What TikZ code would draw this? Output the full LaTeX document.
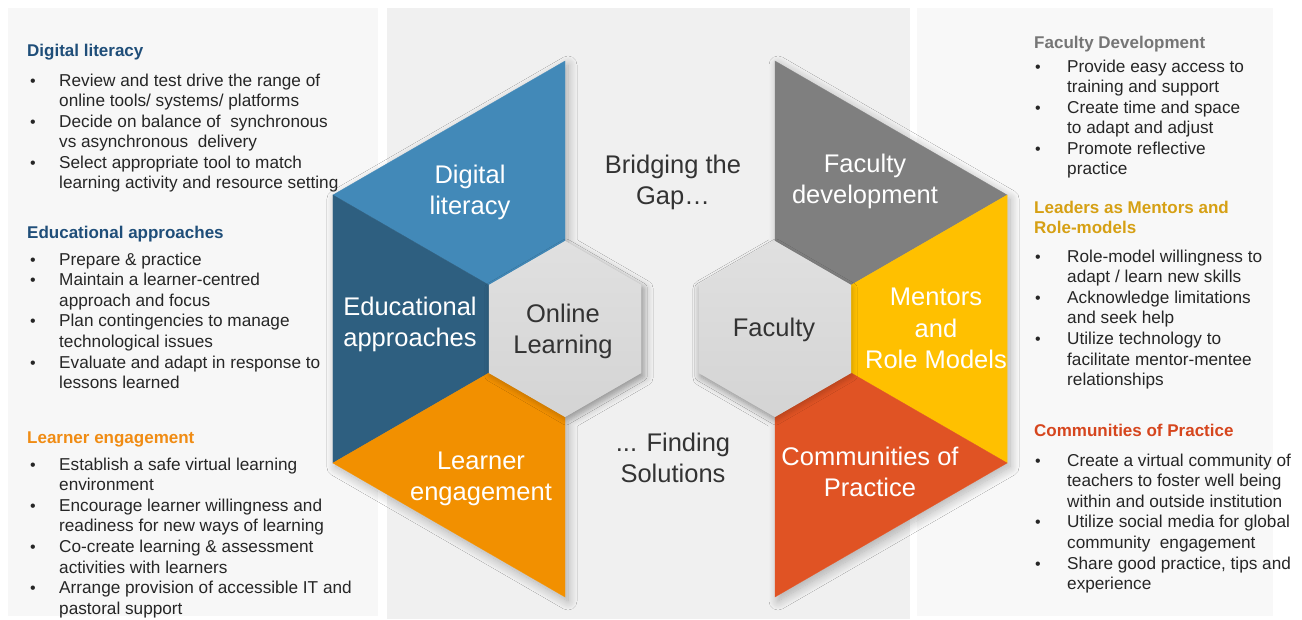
\documentclass[tikz,border=0pt]{standalone}
\usepackage{fontspec}
\setmainfont{Liberation Sans}
\usetikzlibrary{shadows.blur}
\definecolor{panelL}{RGB}{247,247,247}
\definecolor{panelC}{RGB}{240,240,240}
\definecolor{panelR}{RGB}{248,248,248}
\definecolor{segDL}{RGB}{66,137,184}
\definecolor{segEA}{RGB}{46,95,128}
\definecolor{segLE}{RGB}{242,144,0}
\definecolor{segFD}{RGB}{127,127,127}
\definecolor{segMR}{RGB}{255,192,0}
\definecolor{segCP}{RGB}{224,83,36}
\definecolor{hexTop}{RGB}{224,224,224}
\definecolor{hexBot}{RGB}{212,212,212}
\definecolor{hdBlue}{RGB}{31,78,121}
\definecolor{hdOrange}{RGB}{240,140,20}
\definecolor{hdGray}{RGB}{118,118,118}
\definecolor{hdGold}{RGB}{214,160,20}
\definecolor{hdRed}{RGB}{214,70,30}
\definecolor{bodyText}{RGB}{38,38,38}
\definecolor{darkText}{RGB}{51,51,51}
\tikzset{
  body/.style={anchor=base west, inner sep=0pt, text=bodyText, font=\fontsize{17.2}{20.5}\selectfont},
  bul/.style={anchor=base west, inner sep=0pt, text=bodyText, font=\fontsize{16}{18}\selectfont},
  head/.style={anchor=base west, inner sep=0pt, font=\bfseries\fontsize{17}{20.5}\selectfont},
  big/.style={anchor=base, inner sep=0pt, font=\fontsize{25.5}{31}\selectfont},
  white label/.style={big, text=white},
  dark label/.style={big, text=darkText},
  clustershadow/.style={blur shadow={shadow xshift=3pt, shadow yshift=-4pt, shadow blur radius=9pt, shadow blur steps=14, shadow opacity=28}},
  hexshadow/.style={blur shadow={shadow xshift=1pt, shadow yshift=-3pt, shadow blur radius=5pt, shadow blur steps=8, shadow opacity=20}},
  segment/.style={fill=#1, draw=#1, line width=0.3pt},
}
\begin{document}
\begin{tikzpicture}[x=1pt,y=-1pt]
\useasboundingbox (0,0) rectangle (1302,619);
\fill[white] (0,0) rectangle (1302,619);
\fill[panelL] (8,8) rectangle (378,616);
\fill[panelC] (387,8) rectangle (910,619);
\fill[panelR] (917,8) rectangle (1273,616);

% ---------- left cluster coordinates ----------
\coordinate (LT) at (565,61);
\coordinate (LUL) at (332.9,195);
\coordinate (LLL) at (332.9,463);
\coordinate (LB) at (565,597);
\coordinate (lt) at (565,241);
\coordinate (lul) at (488.8,285);
\coordinate (lll) at (488.8,373);
\coordinate (lb) at (565,417);
\coordinate (lur) at (641.2,285);
\coordinate (llr) at (641.2,373);
% ---------- right cluster coordinates ----------
\coordinate (RT) at (775,61);
\coordinate (RUR) at (1007.1,195);
\coordinate (RLR) at (1007.1,463);
\coordinate (RB) at (775,597);
\coordinate (rt) at (775,241);
\coordinate (rur) at (851.2,285);
\coordinate (rlr) at (851.2,373);
\coordinate (rb) at (775,417);
\coordinate (rul) at (698.8,285);
\coordinate (rll) at (698.8,373);

% shadows
\path[fill=panelC, clustershadow] (LT) -- (LUL) -- (LLL) -- (LB) -- (lb) -- (llr) -- (lur) -- (lt) -- cycle;
\path[fill=panelC, clustershadow] (RT) -- (RUR) -- (RLR) -- (RB) -- (rb) -- (rll) -- (rul) -- (rt) -- cycle;

% left segments
\path[segment=segDL] (LUL) -- (LT) -- (lt) -- (lul) -- cycle;
\path[segment=segEA] (LUL) -- (lul) -- (lll) -- (LLL) -- cycle;
\path[segment=segLE] (LLL) -- (lll) -- (lb) -- (LB) -- cycle;
\path[top color=hexTop, bottom color=hexBot, hexshadow] (lt) -- (lur) -- (llr) -- (lb) -- (lll) -- (lul) -- cycle;

% right segments
\path[segment=segFD] (RT) -- (RUR) -- (rur) -- (rt) -- cycle;
\path[segment=segMR] (RUR) -- (RLR) -- (rlr) -- (rur) -- cycle;
\path[segment=segCP] (rlr) -- (RLR) -- (RB) -- (rb) -- cycle;
\path[top color=hexTop, bottom color=hexBot, hexshadow] (rt) -- (rur) -- (rlr) -- (rb) -- (rll) -- (rul) -- cycle;

% segment labels
\node[white label] (dl1) at (470,183) {Digital};
\node[white label] (dl2) at (470,214) {literacy};
\node[white label] (ea1) at (410,315) {Educational};
\node[white label] (ea2) at (410,346) {approaches};
\node[dark label] (ol1) at (563,322) {Online};
\node[dark label] (ol2) at (563,353) {Learning};
\node[white label] (le1) at (481,469) {Learner};
\node[white label] (le2) at (481,500) {engagement};
\node[dark label] (bg1) at (673,173) {Bridging the};
\node[dark label] (bg2) at (673,204) {Gap…};
\node[dark label] (fs1) at (673,451) {... Finding};
\node[dark label] (fs2) at (673,482) {Solutions};
\node[white label] (fd1) at (865,172) {Faculty};
\node[white label] (fd2) at (865,203) {development};
\node[dark label] (fa1) at (774,336) {Faculty};
\node[white label] (mr1) at (936,305) {Mentors};
\node[white label] (mr2) at (936,337) {and};
\node[white label] (mr3) at (936,368) {Role Models};
\node[white label] (cp1) at (870,465) {Communities of};
\node[white label] (cp2) at (870,496) {Practice};

% ---------- left text ----------
\node[head, text=hdBlue] (h1) at (27,56) {Digital literacy};
\node[bul] (b11) at (30,86) {•};
\node[body] (t11) at (59,86) {Review and test drive the range of};
\node[body] (t12) at (59,106.5) {online tools/ systems/ platforms};
\node[bul] (b12) at (30,127) {•};
\node[body] (t13) at (59,127) {Decide on balance of \ synchronous};
\node[body] (t14) at (59,147.5) {vs asynchronous \ delivery};
\node[bul] (b13) at (30,168) {•};
\node[body] (t15) at (59,168) {Select appropriate tool to match};
\node[body] (t16) at (59,188.5) {learning activity and resource setting};

\node[head, text=hdBlue] (h2) at (27,238) {Educational approaches};
\node[bul] (b21) at (30,265) {•};
\node[body] (t21) at (59,265) {Prepare \& practice};
\node[bul] (b22) at (30,285.6) {•};
\node[body] (t22) at (59,285.6) {Maintain a learner-centred};
\node[body] (t23) at (59,306.2) {approach and focus};
\node[bul] (b23) at (30,326.8) {•};
\node[body] (t24) at (59,326.8) {Plan contingencies to manage};
\node[body] (t25) at (59,347.4) {technological issues};
\node[bul] (b24) at (30,368) {•};
\node[body] (t26) at (59,368) {Evaluate and adapt in response to};
\node[body] (t27) at (59,388.6) {lessons learned};

\node[head, text=hdOrange] (h3) at (27,443) {Learner engagement};
\node[bul] (b31) at (30,470) {•};
\node[body] (t31) at (59,470) {Establish a safe virtual learning};
\node[body] (t32) at (59,490.6) {environment};
\node[bul] (b32) at (30,511.2) {•};
\node[body] (t33) at (59,511.2) {Encourage learner willingness and};
\node[body] (t34) at (59,531.8) {readiness for new ways of learning};
\node[bul] (b33) at (30,552.4) {•};
\node[body] (t35) at (59,552.4) {Co-create learning \& assessment};
\node[body] (t36) at (59,573) {activities with learners};
\node[bul] (b34) at (30,593.6) {•};
\node[body] (t37) at (59,593.6) {Arrange provision of accessible IT and};
\node[body] (t38) at (59,614.2) {pastoral support};

% ---------- right text ----------
\node[head, text=hdGray] (h4) at (1034,48) {Faculty Development};
\node[bul] (b41) at (1035,72) {•};
\node[body] (t41) at (1067,72) {Provide easy access to};
\node[body] (t42) at (1067,92.5) {training and support};
\node[bul] (b42) at (1035,113) {•};
\node[body] (t43) at (1067,113) {Create time and space};
\node[body] (t44) at (1067,133.5) {to adapt and adjust};
\node[bul] (b43) at (1035,154) {•};
\node[body] (t45) at (1067,154) {Promote reflective};
\node[body] (t46) at (1067,174.5) {practice};

\node[head, text=hdGold] (h5) at (1034,213) {Leaders as Mentors and};
\node[head, text=hdGold] (h5b) at (1034,233) {Role-models};
\node[bul] (b51) at (1035,262) {•};
\node[body] (t51) at (1067,262) {Role-model willingness to};
\node[body] (t52) at (1067,282.6) {adapt / learn new skills};
\node[bul] (b52) at (1035,303.2) {•};
\node[body] (t53) at (1067,303.2) {Acknowledge limitations};
\node[body] (t54) at (1067,323.8) {and seek help};
\node[bul] (b53) at (1035,344.4) {•};
\node[body] (t55) at (1067,344.4) {Utilize technology to};
\node[body] (t56) at (1067,365) {facilitate mentor-mentee};
\node[body] (t57) at (1067,385.6) {relationships};

\node[head, text=hdRed] (h6) at (1034,436) {Communities of Practice};
\node[bul] (b61) at (1035,466) {•};
\node[body] (t61) at (1067,466) {Create a virtual community of};
\node[body] (t62) at (1067,486.6) {teachers to foster well being};
\node[body] (t63) at (1067,507.2) {within and outside institution};
\node[bul] (b62) at (1035,527.8) {•};
\node[body] (t64) at (1067,527.8) {Utilize social media for global};
\node[body] (t65) at (1067,548.4) {community \ engagement};
\node[bul] (b63) at (1035,569) {•};
\node[body] (t66) at (1067,569) {Share good practice, tips and};
\node[body] (t67) at (1067,589.6) {experience};
\end{tikzpicture}
\end{document}
